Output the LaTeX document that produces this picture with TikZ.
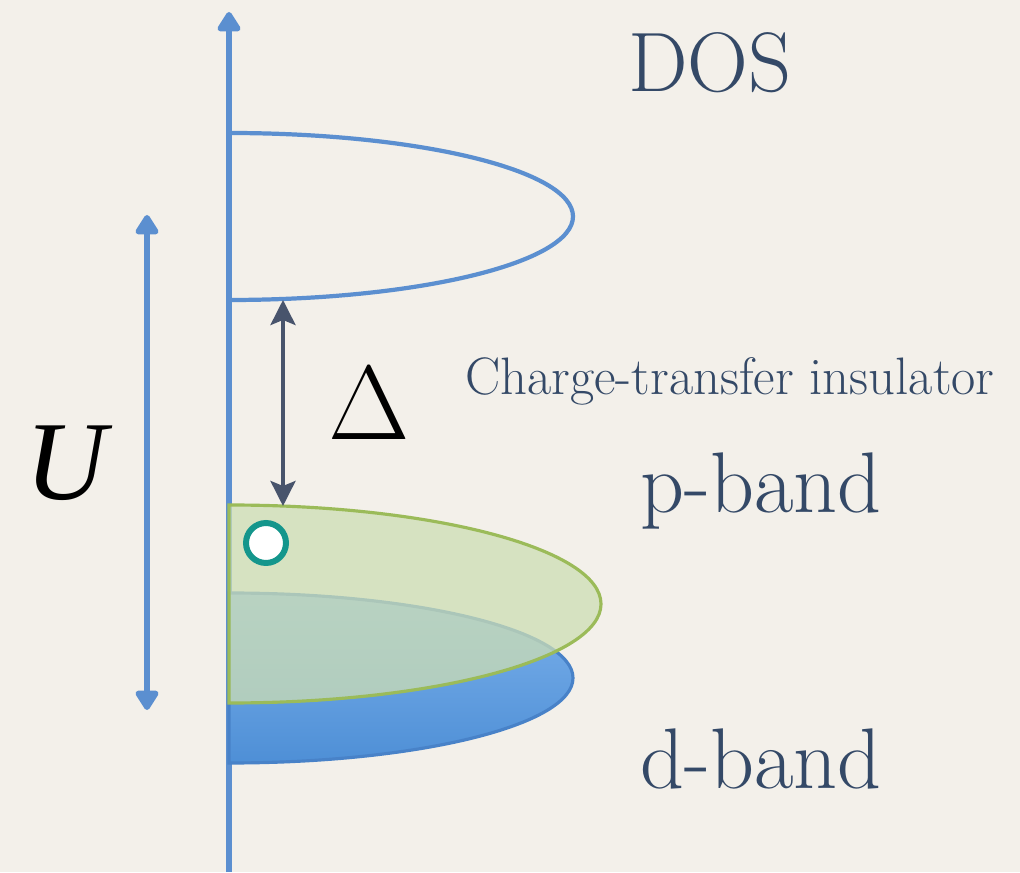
\documentclass[tikz,border=0pt]{standalone}
\usepackage{fontspec}
\usepackage{tikz}
\usetikzlibrary{arrows.meta}
\newfontfamily\symbfont{Liberation Serif}

\definecolor{bgcream}{RGB}{243,240,234}
\definecolor{axisblue}{RGB}{91,143,208}
\definecolor{gapslate}{RGB}{72,84,108}
\definecolor{labelnavy}{RGB}{52,73,103}
\definecolor{pgreen}{RGB}{155,187,89}
\definecolor{pfill}{RGB}{205,222,180}
\definecolor{dline}{RGB}{72,130,200}
\definecolor{dtop}{RGB}{125,178,236}
\definecolor{dbottom}{RGB}{78,143,214}
\definecolor{holeteal}{RGB}{20,150,140}

\tikzset{
	axisarrow/.style={line width=3.3pt, axisblue, -{Triangle[round,length=0.44cm,width=0.52cm]}},
	uarrow/.style={line width=3.3pt, axisblue, {Triangle[round,length=0.44cm,width=0.52cm]}-{Triangle[round,length=0.44cm,width=0.52cm]}},
	gaparrow/.style={line width=2.2pt, gapslate, {Stealth[length=0.5cm,width=0.5cm,inset=0.1cm]}-{Stealth[length=0.5cm,width=0.5cm,inset=0.1cm]}},
	bandlabel/.style={inner sep=0pt, text=labelnavy, anchor=base west},
	hole/.style={circle, draw=holeteal, line width=3.4pt, fill=white, minimum size=0.8cm, inner sep=0pt},
}

\begin{document}
\begin{tikzpicture}[x=0.02cm,y=0.02cm]
	\useasboundingbox[fill=bgcream] (0,0) rectangle (1020,872);
	%\draw[help lines] (0,0) grid[step=50] (1020,872);

	\coordinate (axisbot) at (229,0);
	\coordinate (axistop) at (229,860);
	\coordinate (ubot) at (147,162);
	\coordinate (utop) at (147,657);
	\coordinate (gaptop) at (283,572);
	\coordinate (gapbot) at (283,366);

	\draw[axisarrow] (axisbot) -- (axistop);

	% upper band
	\draw[line width=2.4pt, axisblue] (229,739) arc[start angle=90, end angle=-90, x radius=344, y radius=83.5];

	% d-band
	\draw[line width=1.8pt, dline, top color=dtop, bottom color=dbottom] (229,279) arc[start angle=90, end angle=-90, x radius=344, y radius=85] -- cycle;
	% p-band
	\draw[line width=1.8pt, pgreen, fill=pfill, fill opacity=0.75] (229,367) arc[start angle=90, end angle=-90, x radius=372, y radius=99] -- cycle;

	\draw[uarrow] (ubot) -- (utop);
	\draw[gaparrow] (gapbot) -- (gaptop);

	\node[hole] (hole) at (266,329) {};

	\node[inner sep=0pt, anchor=base] (gap) at (369,432) {\fontsize{60}{66}\selectfont Δ};
	\node[inner sep=0pt, anchor=base] (hubbard) at (66,372) {\fontsize{64}{70}\selectfont\symbfont\itshape U};

	\node[inner sep=0pt, text=labelnavy, anchor=base] (dos) at (710,780) {\fontsize{48}{54}\selectfont DOS};
	\node[inner sep=0pt, text=labelnavy, anchor=base] (ctlabel) at (730,477) {\fontsize{30}{34}\selectfont Charge-transfer insulator};
	\node[bandlabel] (pband) at (640,359) {\fontsize{49}{54}\selectfont p-band};
	\node[bandlabel] (dband) at (640,84) {\fontsize{49}{54}\selectfont d-band};
\end{tikzpicture}
\end{document}
